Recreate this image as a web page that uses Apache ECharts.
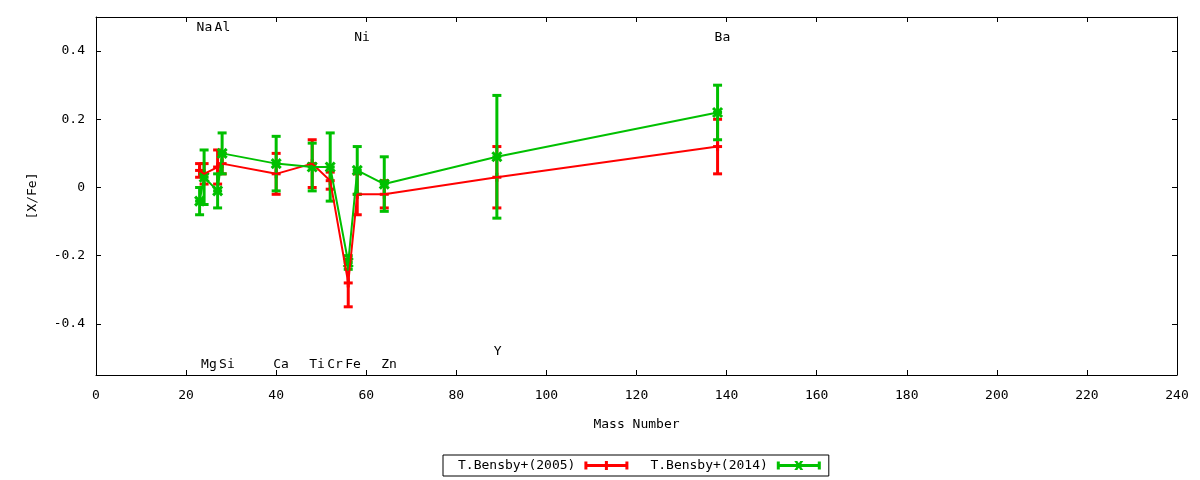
<!DOCTYPE html>
<html>
<head>
<meta charset="utf-8">
<script src="https://cdn.jsdelivr.net/npm/echarts@6/dist/echarts.min.js"></script>
<style>html,body{margin:0;padding:0;background:#fff}#c{width:1200px;height:480px}</style>
</head>
<body>
<div id="c"></div>
<script>
// ---- data ----
var elements = ['Na','Mg','Al','Si','Ca','Ti','Cr','Fe','Ni','Zn','Y','Ba'];
var massNumber = [23, 24, 27, 28, 40, 48, 52, 56, 58, 64, 89, 138];
var bensby2005 = [0.05, 0.04, 0.06, 0.07, 0.04, 0.07, 0.02, -0.28, -0.02, -0.02, 0.03, 0.12];
var bensby2005Err = [0.02, 0.03, 0.05, 0.03, 0.06, 0.07, 0.025, 0.07, 0.06, 0.04, 0.09, 0.08];
var bensby2014 = [-0.04, 0.03, -0.01, 0.10, 0.07, 0.06, 0.06, -0.22, 0.05, 0.01, 0.09, 0.22];
var bensby2014Err = [0.04, 0.08, 0.05, 0.06, 0.08, 0.07, 0.10, 0.02, 0.07, 0.08, 0.18, 0.08];
var labelNames = ['Na','Al','Ni','Ba','Mg','Si','Ca','Ti','Cr','Fe','Zn','Y'];
var labelMass = [23, 27, 58, 138, 24, 28, 40, 48, 52, 56, 64, 89];
var labelY = [0.47, 0.47, 0.44, 0.44, -0.52, -0.52, -0.52, -0.52, -0.52, -0.52, -0.52, -0.48];
var yTicks = [-0.4, -0.2, 0, 0.2, 0.4];
var seriesNames = ['T.Bensby+(2005)', 'T.Bensby+(2014)'];

var RED = '#ff0000', GREEN = '#00c000';
var FONT = 'DejaVu Sans Mono';

function errData(vals, errs) {
  return massNumber.map(function (m, i) { return [m, vals[i], errs[i]]; });
}
function lineData(vals) {
  return massNumber.map(function (m, i) { return [m, vals[i]]; });
}
function makeErrRender(color, marker) {
  return function (params, api) {
    var x = api.value(0), y = api.value(1), e = api.value(2);
    var p = api.coord([x, y]);
    var t = api.coord([x, y + e]);
    var b = api.coord([x, y - e]);
    var st = { stroke: color, lineWidth: 3 };
    var ch = [
      { type: 'line', shape: { x1: p[0], y1: t[1], x2: p[0], y2: b[1] }, style: st },
      { type: 'line', shape: { x1: p[0] - 4.5, y1: t[1], x2: p[0] + 4.5, y2: t[1] }, style: st },
      { type: 'line', shape: { x1: p[0] - 4.5, y1: b[1], x2: p[0] + 4.5, y2: b[1] }, style: st }
    ];
    var s = 4.5;
    if (marker === 'plus') {
      ch.push({ type: 'line', shape: { x1: p[0] - s, y1: p[1], x2: p[0] + s, y2: p[1] }, style: st });
      ch.push({ type: 'line', shape: { x1: p[0], y1: p[1] - s, x2: p[0], y2: p[1] + s }, style: st });
    } else {
      ch.push({ type: 'line', shape: { x1: p[0] - s, y1: p[1] - s, x2: p[0] + s, y2: p[1] + s }, style: st });
      ch.push({ type: 'line', shape: { x1: p[0] - s, y1: p[1] + s, x2: p[0] + s, y2: p[1] - s }, style: st });
      ch.push({ type: 'line', shape: { x1: p[0] - s, y1: p[1], x2: p[0] + s, y2: p[1] }, style: st });
    }
    return { type: 'group', children: ch };
  };
}

var redIcon = 'path://M0,4.5h44v3h-44z M0,2h3v8h-3z M41,2h3v8h-3z M20.5,1.5h3v9h-3z';
var greenIcon = 'path://M0,4.5h44v3h-44z M0,2h3v8h-3z M41,2h3v8h-3z M17.5,1.5h3l6,9h-3z M23.5,1.5h3l-6,9h-3z';

var axisCommon = {
  axisLine: { show: true, onZero: false, lineStyle: { color: '#000', width: 1 } },
  axisTick: { show: true, inside: true, length: 5, lineStyle: { color: '#000', width: 1 } },
  splitLine: { show: false }
};

var chart = echarts.init(document.getElementById('c'));
chart.setOption({
  backgroundColor: '#fff',
  animation: false,
  grid: { left: 96, top: 17, width: 1081, height: 358, containLabel: false },
  xAxis: [
    Object.assign({}, axisCommon, {
      type: 'value', min: 0, max: 240, interval: 20, position: 'bottom',
      name: 'Mass Number', nameLocation: 'middle', nameGap: 43,
      nameTextStyle: { fontFamily: FONT, fontSize: 13, color: '#000' },
      axisLabel: { show: true, margin: 14, fontFamily: FONT, fontSize: 13, color: '#000' }
    }),
    Object.assign({}, axisCommon, {
      type: 'value', min: 0, max: 240, interval: 20, position: 'top',
      axisLabel: { show: false }
    })
  ],
  yAxis: [
    Object.assign({}, axisCommon, {
      type: 'value', min: -0.55, max: 0.5, position: 'left',
      name: '[X/Fe]', nameLocation: 'middle', nameGap: 57, nameRotate: 90,
      nameTextStyle: { fontFamily: FONT, fontSize: 13, color: '#000' },
      axisTick: { show: true, inside: true, length: 5, customValues: yTicks, lineStyle: { color: '#000', width: 1 } },
      axisLabel: { show: true, margin: 11, fontFamily: FONT, fontSize: 13, color: '#000', customValues: yTicks }
    }),
    Object.assign({}, axisCommon, {
      type: 'value', min: -0.55, max: 0.5, position: 'right',
      axisTick: { show: true, inside: true, length: 5, customValues: yTicks, lineStyle: { color: '#000', width: 1 } },
      axisLabel: { show: false, customValues: yTicks }
    })
  ],
  legend: {
    left: 443, top: 455,
    orient: 'horizontal',
    align: 'right',
    padding: [4, 8, 4, 15],
    itemGap: 22,
    itemWidth: 44, itemHeight: 12,
    borderColor: '#000', borderWidth: 1, borderRadius: 0,
    backgroundColor: '#fff',
    itemStyle: { borderWidth: 0 },
    textStyle: { fontFamily: FONT, fontSize: 13, color: '#000', padding: [0, 4, 0, 0] },
    data: [
      { name: seriesNames[0], icon: redIcon, itemStyle: { color: RED } },
      { name: seriesNames[1], icon: greenIcon, itemStyle: { color: GREEN } }
    ]
  },
  series: [
    {
      name: seriesNames[0], type: 'line', data: lineData(bensby2005),
      showSymbol: false, symbol: 'none', color: RED,
      lineStyle: { color: RED, width: 2 }, itemStyle: { color: RED }
    },
    {
      name: seriesNames[0], type: 'custom', data: errData(bensby2005, bensby2005Err),
      encode: { x: 0, y: 1 }, color: RED, itemStyle: { color: RED },
      renderItem: makeErrRender(RED, 'plus')
    },
    {
      name: seriesNames[1], type: 'line', data: lineData(bensby2014),
      showSymbol: false, symbol: 'none', color: GREEN,
      lineStyle: { color: GREEN, width: 2 }, itemStyle: { color: GREEN }
    },
    {
      name: seriesNames[1], type: 'custom', data: errData(bensby2014, bensby2014Err),
      encode: { x: 0, y: 1 }, color: GREEN, itemStyle: { color: GREEN },
      renderItem: makeErrRender(GREEN, 'cross')
    },
    {
      type: 'custom', silent: true, clip: false,
      data: labelMass.map(function (m, i) { return [m, labelY[i], i]; }),
      encode: { x: 0, y: 1 },
      renderItem: function (params, api) {
        var p = api.coord([api.value(0), api.value(1)]);
        return {
          type: 'text',
          style: {
            text: labelNames[api.value(2)], x: p[0] - 3, y: p[1],
            align: 'left', verticalAlign: 'middle',
            fontFamily: FONT, fontSize: 13, fill: '#000'
          }
        };
      }
    }
  ]
});
</script>
</body>
</html>
